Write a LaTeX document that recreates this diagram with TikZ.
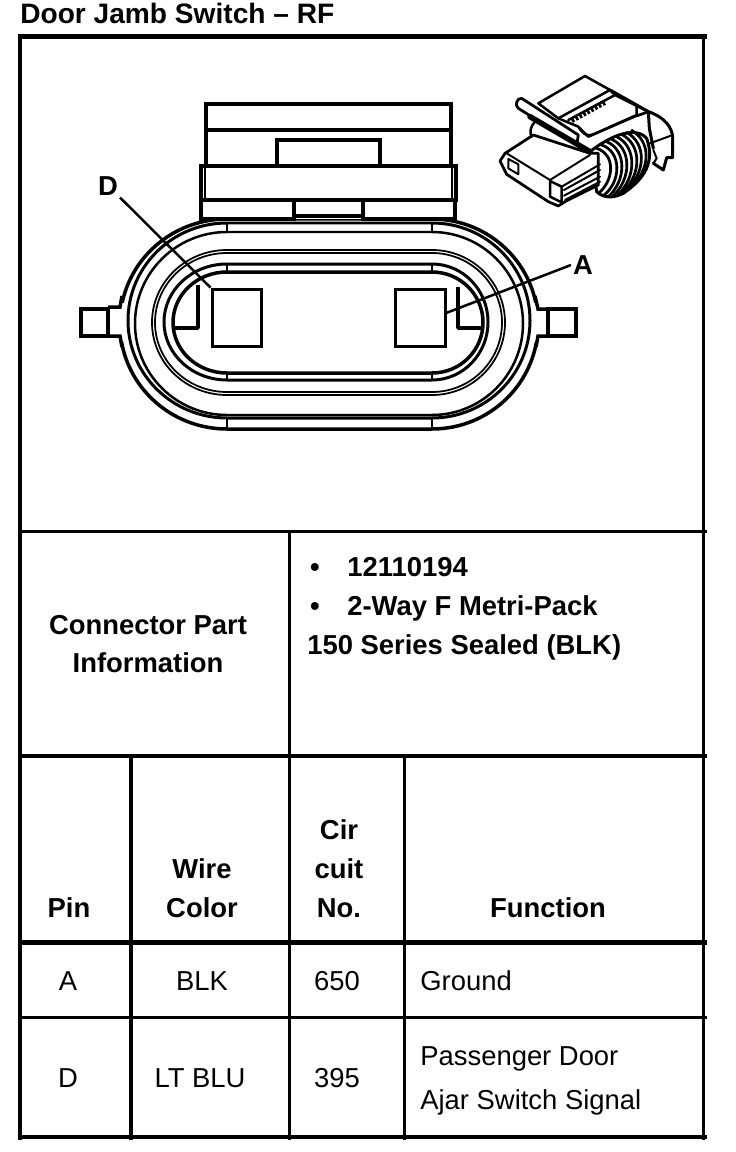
\documentclass[tikz,border=0pt]{standalone}
\usepackage{fontspec}
\setmainfont{Liberation Sans}
\usetikzlibrary{calc}
% half ellipses joined by straight runs: [style](left rx:right rx:top:bottom)
\def\ovalring[#1](#2:#3:#4:#5){\draw[#1] (227, #4) arc (-90:-270:#2 and {(#5-#4)/2}) -- (432, #5) arc (90:-90:#3 and {(#5-#4)/2}) -- cycle;}
\tikzset{
	headtxt/.style={font=\fontsize{15.6}{18}\selectfont\bfseries, anchor=base, inner sep=0pt},
	celltxt/.style={font=\fontsize{15.6}{18}\selectfont, anchor=base, inner sep=0pt},
	term/.style={draw, line width=0.6mm, minimum width=1cm, minimum height=1.16cm, inner sep=0pt, fill=white},
	pinlbl/.style={font=\fontsize{15.6}{18}\selectfont\bfseries, inner sep=1pt},
	leader/.style={line width=0.5mm},
	thin3d/.style={line width=0.4mm, line cap=round, line join=round}
}
\begin{document}
\begin{tikzpicture}[x=0.02cm, y=-0.02cm]
	\useasboundingbox (0, 0) rectangle (736, 1152);
	
	%%%%% TITLE AND GRID %%%%%
	\node[headtxt, anchor=base west, font=\fontsize{16}{18}\selectfont\bfseries] (title) at (20, 24) {Door Jamb Switch -- RF};
	
	\draw[line width=1mm] (18, 37) -- (707, 37);
	\draw[line width=0.8mm] (20, 37) -- (20, 1140);
	\draw[line width=0.6mm] (703, 37) -- (703, 1140);
	\draw[line width=0.6mm] (20, 531) -- (707, 531);
	\draw[line width=0.8mm] (20, 755.5) -- (707, 755.5);
	\draw[line width=1mm] (20, 942) -- (707, 942);
	\draw[line width=0.6mm] (20, 1017.5) -- (707, 1017.5);
	\draw[line width=0.8mm] (18, 1137) -- (707, 1137);
	\draw[line width=0.6mm] (289, 531) -- (289, 1140);
	\draw[line width=0.8mm] (130.5, 755) -- (130.5, 1140);
	\draw[line width=0.6mm] (404, 755) -- (404, 1140);
	
	%%%%% CONNECTOR FACE %%%%%
	\ovalring[line width=0.7mm, fill=white](107:106:219:429)
	\ovalring[line width=0.6mm](99:98:223:418)
	\ovalring[line width=0.5mm](92:91:232:415)
	\ovalring[line width=0.35mm](75:73:250:395)
	\ovalring[line width=0.35mm](72:70:253:392)
	\ovalring[line width=0.6mm](63:56:264:380)
	\ovalring[line width=0.7mm](54:51:272:373)
	
	% joints
	\draw[line width=0.4mm] (227, 223) -- (227, 232);
	\draw[line width=0.4mm] (432, 223) -- (432, 232);
	\draw[line width=0.4mm] (227, 264) -- (227, 272);
	\draw[line width=0.4mm] (432, 264) -- (432, 272);
	\draw[line width=0.4mm] (227, 373) -- (227, 380);
	\draw[line width=0.4mm] (432, 373) -- (432, 380);
	\draw[line width=0.4mm] (227, 418) -- (227, 429);
	\draw[line width=0.4mm] (432, 418) -- (432, 429);
	
	% keys
	\draw[line width=0.7mm, line join=round] (198, 285) -- (198, 328) -- (173, 328);
	\draw[line width=0.7mm, line join=round] (458, 287) -- (458, 328) -- (483, 328);
	
	% tabs
	\draw[fill=white, draw=none] (116, 303) rectangle (125, 342);
	\draw[line width=0.7mm, fill=white] (81, 309) rectangle (108, 336);
	\draw[line width=0.7mm] (108, 307) -- (120, 307) -- (122, 296);
	\draw[line width=0.7mm] (108, 336) -- (120, 336) -- (122, 347);
	\draw[fill=white, draw=none] (533, 303) rectangle (543, 342);
	\draw[line width=0.7mm, fill=white] (548, 309) rectangle (576, 336);
	\draw[line width=0.7mm] (548, 309) -- (538, 309) -- (535, 296);
	\draw[line width=0.7mm] (548, 336) -- (538, 336) -- (536, 347);
	
	% top housing
	\draw[line width=0.9mm, fill=white] (201, 166) rectangle (456, 200);
	\draw[line width=0.9mm, fill=white] (206, 104) rectangle (451, 166);
	\draw[line width=0.4mm] (205, 166) -- (205, 200);
	\draw[line width=0.4mm] (452, 166) -- (452, 200);
	\draw[line width=0.9mm] (206, 130) -- (451, 130);
	\draw[line width=0.7mm] (277, 166) -- (277, 140) -- (380, 140) -- (380, 166);
	\draw[draw=none, fill=white] (202, 200) rectangle (455, 219);
	\draw[line width=0.8mm] (201, 200) -- (201, 219) -- (294, 219) -- (294, 200);
	\draw[line width=0.8mm] (455, 200) -- (455, 219) -- (363, 219) -- (363, 200);
	\draw[line width=0.8mm] (294, 216) -- (363, 216);
	\draw[line width=0.9mm] (201, 200) -- (456, 200);
	
	% terminals and callouts
	\node[term] (termD) at (237, 318) {};
	\node[term] (termA) at (420, 318) {};
	\node[pinlbl] (lblD) at (108, 186) {D};
	\node[pinlbl] (lblA) at (583, 265) {A};
	\draw[leader] (lblD.south east) -- (termD.north west);
	\draw[leader] (lblA.west) -- (termA.11);
	
	%%%%% SMALL VIEW %%%%%
	\begin{scope}[shift={(490, 85)}, scale=1/3]
		% rear shell
		\draw[thin3d, line width=0.6mm] (360, 15) -- (475, 80) .. controls (520, 95) and (548, 125) .. (548, 160) -- (548, 218) -- (530, 218) -- (520, 255) -- (490, 235);
		\draw[thin3d] (480, 175) -- (548, 150);
		\draw[thin3d] (490, 195) -- (500, 220) -- (490, 235);
		\draw[thin3d, line width=0.6mm] (440, 92) -- (475, 80) -- (478, 130) -- (490, 190);
		% seal coils
		\draw[thin3d, fill=white, line width=0.6mm] (300, 200) .. controls (370, 145) and (440, 125) .. (470, 160) .. controls (495, 230) and (465, 280) .. (400, 325) .. controls (370, 340) and (340, 340) .. (320, 320) -- cycle;
		\draw[thin3d, line width=0.55mm] (320, 190) .. controls (380, 210) and (370, 290) .. (325, 325);
		\draw[thin3d, line width=0.55mm] (335, 180) .. controls (395, 200) and (395, 290) .. (340, 332);
		\draw[thin3d, line width=0.55mm] (350, 170) .. controls (410, 195) and (410, 285) .. (355, 335);
		\draw[thin3d, line width=0.55mm] (365, 163) .. controls (425, 190) and (425, 280) .. (370, 332);
		\draw[thin3d, line width=0.55mm] (380, 155) .. controls (440, 185) and (440, 275) .. (385, 328);
		\draw[thin3d, line width=0.55mm] (395, 148) .. controls (455, 180) and (455, 265) .. (400, 320);
		\draw[thin3d, line width=0.55mm] (410, 142) .. controls (468, 175) and (468, 255) .. (415, 310);
		\draw[thin3d, line width=0.55mm] (425, 136) .. controls (482, 170) and (482, 245) .. (430, 300);
		% upper housing and clip
		\draw[thin3d, fill=white, line width=0.5mm] (145, 55) -- (285, -27) -- (360, 15) -- (475, 80) -- (440, 92) -- (295, 155) -- (265, 125) -- (205, 100) -- cycle;
		\draw[thin3d, line width=0.5mm] (205, 100) -- (360, 15) -- (375, 30);
		\draw[thin3d, line width=0.5mm] (235, 105) -- (375, 30) -- (475, 80);
		\draw[line width=1mm, dash pattern=on 1.5pt off 1pt] (245, 107) -- (345, 52);
		\draw[thin3d, line width=0.5mm] (265, 125) .. controls (280, 150) and (295, 155) .. (310, 148) -- (440, 90) -- (440, 62);
		% body
		\draw[thin3d, fill=white, line width=0.55mm] (45, 205) -- (30, 228) -- (50, 268) -- (175, 350) -- (205, 363) -- (225, 350) -- (325, 300) -- (325, 205) -- (300, 205) -- (130, 150) -- cycle;
		\draw[thin3d] (50, 205) -- (180, 285) -- (300, 210);
		\draw[thin3d] (55, 222) -- (85, 238) -- (85, 268) -- (55, 250) -- cycle;
		\draw[thin3d, line width=0.5mm] (180, 288) -- (215, 305) -- (215, 352) -- (180, 335) -- cycle;
		\draw[thin3d] (215, 305) -- (330, 238);
		\draw[thin3d] (222, 315) -- (330, 255);
		\draw[thin3d] (222, 332) -- (330, 275);
		\draw[thin3d] (225, 345) -- (330, 290);
		% lever
		\draw[thin3d, fill=white, line width=0.55mm] (95, 40) -- (265, 150) -- (260, 180) -- (85, 70) .. controls (72, 60) and (82, 38) .. (95, 40) -- cycle;
		\draw[line width=1.1mm, line cap=round] (120, 95) -- (300, 200);
		\draw[thin3d, line width=0.5mm] (135, 110) .. controls (120, 125) and (118, 145) .. (125, 155);
	\end{scope}
	
	%%%%% TABLE TEXT %%%%%
	\node[headtxt] (info1) at (148, 634) {Connector Part};
	\node[headtxt] (info2) at (148, 672.5) {Information};
	\node[headtxt] (bul1) at (315, 576) {•};
	\node[headtxt] (bul2) at (315, 615) {•};
	\node[headtxt, anchor=base west] (part1) at (347, 576) {12110194};
	\node[headtxt, anchor=base west] (part2) at (347, 615) {2-Way F Metri-Pack};
	\node[headtxt, anchor=base west] (part3) at (307, 654) {150 Series Sealed (BLK)};
	
	\node[headtxt] (hpin) at (69, 917) {Pin};
	\node[headtxt] (hwire1) at (202, 878) {Wire};
	\node[headtxt] (hwire2) at (202, 917) {Color};
	\node[headtxt] (hcir1) at (339, 839) {Cir};
	\node[headtxt] (hcir2) at (339, 878) {cuit};
	\node[headtxt] (hcir3) at (339, 917) {No.};
	\node[headtxt] (hfunc) at (548, 917) {Function};
	
	\node[celltxt] (pina) at (68, 990) {A};
	\node[celltxt] (wirea) at (202, 990) {BLK};
	\node[celltxt] (cira) at (337, 990) {650};
	\node[celltxt, anchor=base west] (funca) at (420, 990) {Ground};
	\node[celltxt] (pind) at (68, 1087) {D};
	\node[celltxt] (wired) at (200, 1087) {LT BLU};
	\node[celltxt] (cird) at (337, 1087) {395};
	\node[celltxt, anchor=base west] (funcd1) at (420, 1065) {Passenger Door};
	\node[celltxt, anchor=base west] (funcd2) at (420, 1109) {Ajar Switch Signal};
\end{tikzpicture}
\end{document}
